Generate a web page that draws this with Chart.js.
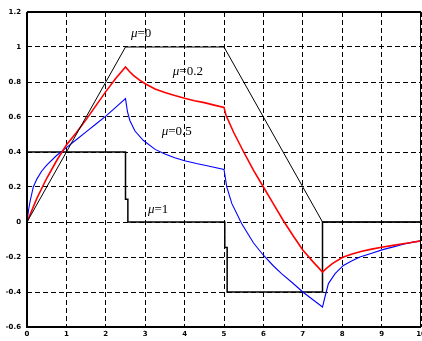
<!DOCTYPE html>
<html>
<head>
<meta charset="utf-8">
<script src="https://cdn.jsdelivr.net/npm/chart.js@4/dist/chart.umd.min.js"></script>
<style>
html,body{margin:0;padding:0;background:#fff;}
#wrap{width:422px;height:341px;}
</style>
</head>
<body>
<div id="wrap"><canvas id="c" width="422" height="341"></canvas></div>
<script>
// ---- data ----
const xTicks = [0,1,2,3,4,5,6,7,8,9,10];
const yTicks = [-0.6,-0.4,-0.2,0,0.2,0.4,0.6,0.8,1,1.2];

const mu0X = [0, 2.5, 5, 7.5, 10];
const mu0Y = [0, 1, 1, 0, 0];

const mu02X = [0,0.25,0.5,0.75,1,1.25,1.5,1.75,2,2.25,2.5,
  2.6,2.7,2.85,3,3.25,3.5,3.75,4,4.25,4.5,4.75,5,
  5.05,5.25,5.5,5.75,6,6.25,6.5,6.75,7,7.25,7.5,
  7.6,7.75,8,8.25,8.5,8.75,9,9.25,9.5,9.75,10];
const mu02Y = [0,0.135,0.25,0.35,0.44,0.51,0.585,0.665,0.745,0.82,0.886,
  0.86,0.838,0.812,0.79,0.76,0.74,0.723,0.707,0.693,0.682,0.668,0.655,
  0.61,0.51,0.4,0.295,0.2,0.105,0.01,-0.077,-0.16,-0.225,-0.286,
  -0.265,-0.238,-0.203,-0.183,-0.167,-0.155,-0.144,-0.135,-0.126,-0.117,-0.108];

const mu05X = [0,0.04,0.08,0.16,0.25,0.37,0.5,0.75,1,1.25,1.5,1.75,2,2.25,2.5,
  2.55,2.61,2.74,2.95,3.25,3.5,3.75,4,4.3,4.6,5,
  5.07,5.2,5.45,5.75,6,6.25,6.46,6.75,7,7.25,7.5,
  7.56,7.65,7.82,8.03,8.25,8.45,8.75,9.03,9.3,9.55,9.8,10];
const mu05Y = [0,0.07,0.12,0.2,0.245,0.29,0.325,0.38,0.425,0.47,0.515,0.56,0.605,0.655,0.705,
  0.63,0.58,0.52,0.467,0.415,0.388,0.367,0.35,0.334,0.32,0.3,
  0.2,0.105,-0.01,-0.12,-0.19,-0.25,-0.295,-0.35,-0.4,-0.443,-0.486,
  -0.43,-0.352,-0.295,-0.248,-0.222,-0.2,-0.178,-0.158,-0.142,-0.127,-0.115,-0.108];

const mu1X = [0,2.5,2.5,2.56,2.56,5.02,5.02,5.08,5.08,7.5,7.5,10];
const mu1Y = [0.4,0.4,0.13,0.13,0,0,-0.145,-0.145,-0.4,-0.4,0,0];

const labelText = ['0','0.2','0.5','1'];
const labelX = [2.64, 3.7, 3.42, 3.07];
const labelY = [1.078, 0.857, 0.514, 0.073];

function pts(xs, ys){ return xs.map((x,i)=>({x:x, y:ys[i]})); }

const framePlugin = {
  id:'frame',
  afterDraw(chart){
    const {ctx, chartArea:a} = chart;
    ctx.save();
    ctx.setLineDash([]);
    ctx.strokeStyle = '#000';
    ctx.lineWidth = 2;
    ctx.beginPath();
    ctx.moveTo(a.left, a.top); ctx.lineTo(a.left, a.bottom); ctx.lineTo(a.right, a.bottom);
    ctx.moveTo(a.left, a.top); ctx.lineTo(a.right, a.top);
    ctx.stroke();
    ctx.lineWidth = 1;
    ctx.beginPath();
    ctx.moveTo(a.right-0.5, a.top); ctx.lineTo(a.right-0.5, a.bottom);
    ctx.stroke();
    // mu labels
    const xs = chart.scales.x, ys = chart.scales.y;
    ctx.fillStyle = '#000';
    ctx.textBaseline = 'middle';
    ctx.textAlign = 'left';
    labelText.forEach((t,i)=>{
      let px = xs.getPixelForValue(labelX[i]);
      const py = ys.getPixelForValue(labelY[i]);
      ctx.font = 'italic 13px "Liberation Serif"';
      ctx.fillText('\u03bc', px, py);
      px += ctx.measureText('\u03bc').width;
      ctx.font = '13px "Liberation Serif"';
      ctx.fillText('=' + t, px, py);
    });
    ctx.restore();
  }
};

const fmt = v => { const r = Math.round(v*10)/10; return (Object.is(r,-0)?0:r).toString(); };

new Chart(document.getElementById('c'), {
  type:'line',
  data:{
    datasets:[
      {data:pts(mu0X,mu0Y), borderColor:'#000', borderWidth:1},
      {data:pts(mu02X,mu02Y), borderColor:'#ff0000', borderWidth:1.6},
      {data:pts(mu05X,mu05Y), borderColor:'#0000ff', borderWidth:1.1},
      {data:pts(mu1X,mu1Y), borderColor:'#000', borderWidth:1.5}
    ]
  },
  options:{
    responsive:false,
    animation:false,
    devicePixelRatio:1,
    layout:{padding:{top:12,right:1,left:0,bottom:0}},
    elements:{point:{radius:0}, line:{tension:0}},
    plugins:{legend:{display:false}, tooltip:{enabled:false}},
    scales:{
      x:{
        type:'linear', min:0, max:10,
        afterBuildTicks(s){ s.ticks = xTicks.map(v=>({value:v})); },
        afterFit(s){ s.height = 14; s.paddingLeft = 0; s.paddingRight = 0; },
        ticks:{autoSkip:false, maxRotation:0, padding:3, color:'#000',
          font:{family:'DejaVu Sans', size:7, weight:'bold'}, callback:v=>fmt(v)},
        grid:{color:'#000', lineWidth:1, drawTicks:false},
        border:{display:false, dash:[5,3]}
      },
      y:{
        type:'linear', min:-0.6, max:1.2,
        afterBuildTicks(s){ s.ticks = yTicks.map(v=>({value:v})); },
        afterFit(s){ s.width = 27; s.paddingTop = 0; s.paddingBottom = 0; },
        ticks:{autoSkip:false, padding:6, color:'#000',
          font:{family:'DejaVu Sans', size:7, weight:'bold'}, callback:v=>fmt(v)},
        grid:{color:'#000', lineWidth:1, drawTicks:false},
        border:{display:false, dash:[5,3]}
      }
    }
  },
  plugins:[framePlugin]
});
</script>
</body>
</html>
